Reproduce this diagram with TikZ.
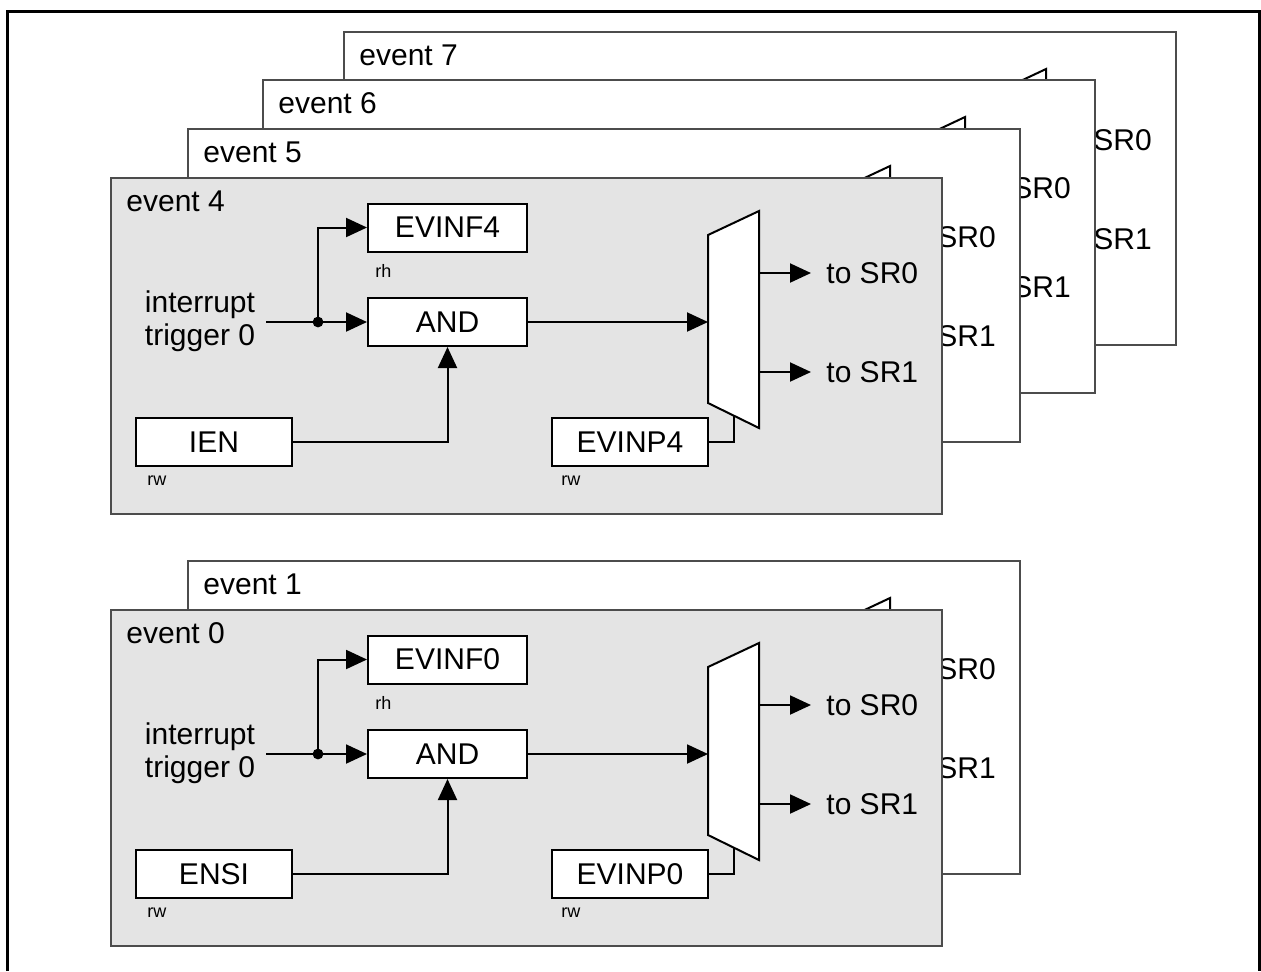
\documentclass[tikz,border=0pt]{standalone}
\usepackage{fontspec}
\setmainfont{Liberation Sans}
\usepackage{xcolor}
\usetikzlibrary{positioning, arrows.meta}
\definecolor{framefill}{RGB}{228,228,228}

\begin{document}
\begin{tikzpicture}[
    x=0.5pt, y=-0.5pt,
    font=\fontsize{15}{16.5}\selectfont,
    >={Triangle[length=10.5pt, width=9.5pt]},
    evframe/.style={draw=black!70, line width=0.65pt},
    reg/.style={draw, line width=1pt, fill=white, minimum width=78pt, minimum height=24pt, inner sep=0pt},
    wire/.style={line width=1pt},
    acc/.style={font=\fontsize{9}{10}\selectfont, anchor=west, inner sep=0pt},
    outlbl/.style={anchor=west, inner xsep=7.5pt, inner ysep=0pt},
    evtitle/.style={anchor=west, inner sep=0pt},
]

\useasboundingbox (0,0) rectangle (1261,971);

% Outer border (open at the bottom)
\draw[line width=1.5pt] (7,971) -- (7,11) -- (1259,11) -- (1259,971);

% Event frames behind, back to front
\foreach \n/\fx/\fy in {7/344/32, 6/263/80, 5/188/129, 1/188/561} {
    \draw[evframe, fill=white] (\fx,\fy) rectangle ++(832,313);
    \node[evtitle] (ev\n) at (\fx+15,\fy+23) {event \n};
    \draw[wire, fill=white] (\fx+702,\fy+37) -- ++(0,217) -- ++(-51,-25) -- ++(0,-168) -- cycle;
    \node[anchor=west, inner sep=0pt] (sra\n) at (\fx+749,\fy+108) {SR0};
    \node[anchor=west, inner sep=0pt] (srb\n) at (\fx+749,\fy+207) {SR1};
}

% Front event frames
\foreach \n/\dy/\en in {4/0/IEN, 0/432/ENSI} {
\begin{scope}[shift={(0,\dy)}]
    \draw[evframe, fill=framefill] (111,178) rectangle ++(831,336);
    \node[evtitle] (ev\n) at (126,201) {event \n};

    % Registers
    \node[reg, minimum width=79.5pt] (evinf\n) at (447.5,227.5) {EVINF\n};
    \node[reg, minimum width=79.5pt] (and\n) at (447.5,322) {AND};
    \node[reg] (ien\n) at (214,442) {\en};
    \node[reg] (evinp\n) at (630,442) {EVINP\n};
    \node[acc] (rh\n) at ([xshift=4pt, yshift=-9pt]evinf\n.south west) {rh};
    \node[acc] (rwa\n) at ([xshift=6pt, yshift=-7pt]ien\n.south west) {rw};
    \node[acc] (rwb\n) at ([xshift=5pt, yshift=-7pt]evinp\n.south west) {rw};

    % Trigger input
    \node[align=center, inner sep=0pt] (irq\n) at (200,321) {interrupt\\trigger 0};
    \coordinate (in\n) at (266,322);
    \coordinate (jn\n) at (318,322);

    % Output selector
    \draw[wire, fill=white] (708,235) -- (759,211) -- (759,428) -- (708,403) -- cycle;
    \coordinate (mi\n) at (708,322);
    \coordinate (moa\n) at (759,273);
    \coordinate (mob\n) at (759,372);
    \coordinate (sel\n) at (734,416);
    \node[outlbl] (toa\n) at (811,273) {to SR0};
    \node[outlbl] (tob\n) at (811,372) {to SR1};

    % Wires
    \draw[wire] (in\n) -- (jn\n);
    \draw[wire, ->] (jn\n) -- (and\n);
    \draw[wire, ->] (jn\n) |- (evinf\n);
    \fill (jn\n) circle (2.7pt);
    \draw[wire, ->] (ien\n) -| (and\n);
    \draw[wire, ->] (and\n) -- (mi\n);
    \draw[wire, ->] (moa\n) -- (toa\n);
    \draw[wire, ->] (mob\n) -- (tob\n);
    \draw[wire] (evinp\n) -| (sel\n);
\end{scope}
}

\end{tikzpicture}
\end{document}
